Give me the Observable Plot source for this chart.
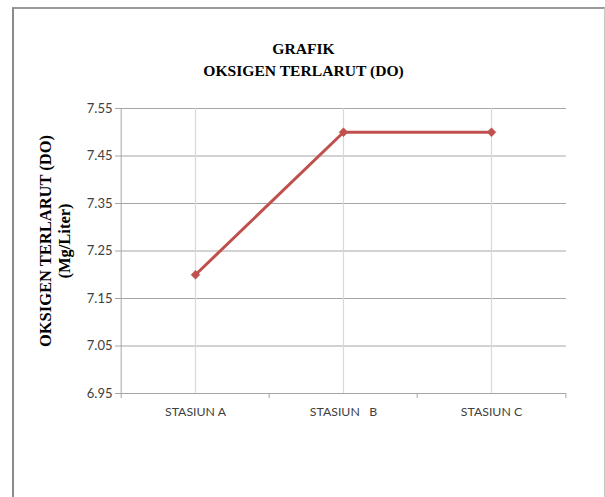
<!DOCTYPE html>
<html>
<head>
<meta charset="utf-8">
<script src="https://cdn.jsdelivr.net/npm/d3@7"></script>
<script src="https://cdn.jsdelivr.net/npm/@observablehq/plot@0.6"></script>
<style>
  html, body { margin: 0; padding: 0; background: #fff; }
  #wrap { position: relative; width: 605px; height: 497px; overflow: hidden; }
  #border { position: absolute; left: 12px; top: 7px; width: 593px; height: 500px;
            border-left: 2px solid #8a8a8a; border-top: 2px solid #9a9a9a; border-right: 1px solid #c8c8c8; box-sizing: border-box; }
  #chart { position: absolute; left: 0; top: 0; }
</style>
</head>
<body>
<div id="wrap"><div id="border"></div><div id="chart"></div></div>
<script>
const stations = ["STASIUN A", "STASIUN   B", "STASIUN C"];
const doValues = [7.2, 7.5, 7.5];
const yTicks = [6.95, 7.05, 7.15, 7.25, 7.35, 7.45, 7.55];
const titleLines = ["GRAFIK", "OKSIGEN TERLARUT (DO)"];
const yLabelLines = ["OKSIGEN TERLARUT (DO)", "(Mg/Liter)"];

const data = stations.map((s, i) => ({station: s, value: doValues[i]}));

const serif = "'Liberation Serif', 'Times New Roman', serif";
const sans = "Lato, 'Open Sans', sans-serif";
const half = (566 - 120) / 3 / 2;

const chart = Plot.plot({
  width: 605,
  height: 497,
  marginLeft: 120,
  marginRight: 39,
  marginTop: 108,
  marginBottom: 104,
  style: {fontFamily: sans, fontSize: "12px", color: "#404040", background: "transparent", overflow: "visible"},
  x: {type: "band", domain: stations, padding: 0, axis: null},
  y: {type: "linear", domain: [6.95, 7.55], axis: null},
  marks: [
    // horizontal gridlines
    Plot.ruleY(yTicks, {y: d => d, stroke: "#a6a6a6", strokeWidth: 1}),
    // vertical gridlines at category centers
    Plot.ruleX(stations, {x: d => d, stroke: "#d9d9d9", strokeWidth: 1.2}),
    // left axis
    Plot.axisY({ticks: yTicks, tickSize: 5, tickFormat: d => d.toFixed(2), stroke: "#a6a6a6", fill: "#404040", tickPadding: 3, fontSize: 13, label: null}),
    Plot.ruleX([stations[0]], {x: d => d, dx: -half, stroke: "#a6a6a6"}),
    // bottom axis tick labels
    Plot.axisX({tickSize: 0, tickPadding: 14, label: null, fill: "#404040", fontSize: 12.3}),
    // bottom axis tick marks at band boundaries
    Plot.ruleX(stations, {x: d => d, dx: -half, y1: () => 6.95, y2: () => 6.95, insetBottom: -5, stroke: "#a6a6a6"}),
    Plot.ruleX([stations[2]], {x: d => d, dx: half, y1: () => 6.95, y2: () => 6.95, insetBottom: -5, stroke: "#a6a6a6"}),
    // line + diamond markers
    Plot.line(data, {x: "station", y: "value", stroke: "#c0504d", strokeWidth: 3}),
    Plot.dot(data, {x: "station", y: "value", symbol: "diamond2", r: 4, fill: "#c0504d", stroke: "#c0504d", strokeWidth: 0.5}),
    // title
    Plot.text([titleLines.join("\n")], {frameAnchor: "top", dx: -40, dy: -70, lineHeight: 1.42, fontFamily: serif, fontWeight: "bold", fontSize: 15.6, fill: "#000", lineAnchor: "top"}),
    // y axis label
    Plot.text([yLabelLines.join("\n")], {frameAnchor: "left", textAnchor: "middle", dx: -66, dy: -10, rotate: -90, lineHeight: 1.15, fontFamily: serif, fontWeight: "bold", fontSize: 16.5, fill: "#000"})
  ]
});
document.getElementById("chart").appendChild(chart);
</script>
</body>
</html>
